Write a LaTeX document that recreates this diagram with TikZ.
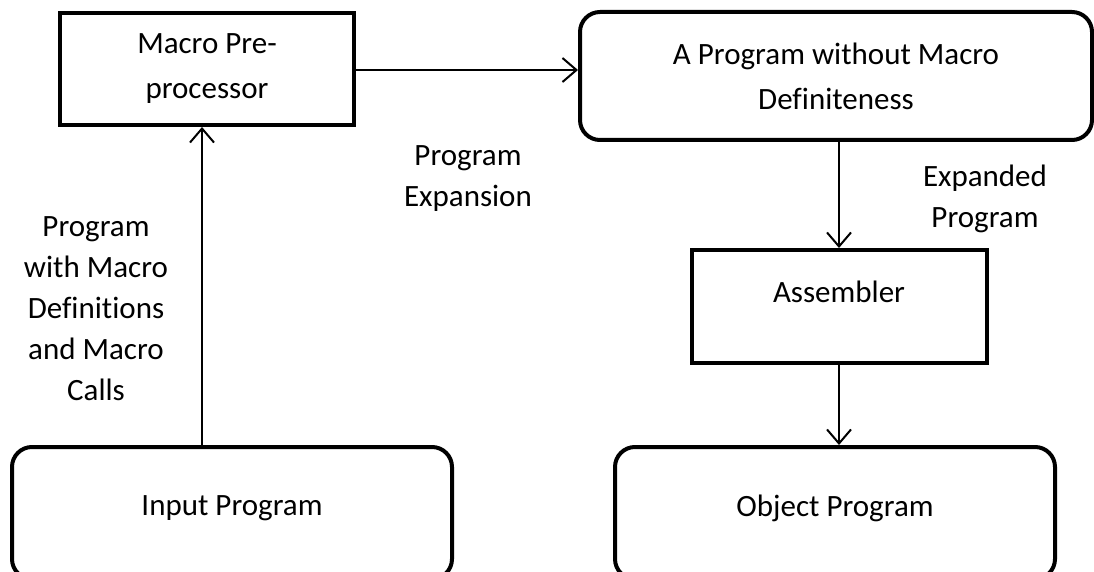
\documentclass[tikz,border=0pt]{standalone}
\usepackage{fontspec}
\setmainfont{Carlito}[Ligatures={NoCommon}]
\usetikzlibrary{arrows.meta}
\tikzset{
  box/.style={draw=black, line width=4pt, fill=white, inner sep=0pt, align=center, font=\fontsize{31}{45}\selectfont},
  rbox/.style={box, rounded corners=20pt},
  arr/.style={draw=black, line width=2pt, -{Straight Barb[length=14pt,width=24pt,line width=2pt]}},
  lbl/.style={align=center, inner sep=0pt},
}
\begin{document}
\begin{tikzpicture}[x=1pt,y=-1pt,font=\fontsize{31}{41}\selectfont]
\useasboundingbox (0,0) rectangle (1094,572);
\clip (0,0) rectangle (1094,572);
% boxes
\node[box, minimum width=294pt, minimum height=112pt] (macro) at (207,69) {Macro Pre-\\processor};
\node[rbox, minimum width=512pt, minimum height=128pt] (prog) at (836,76) {A Program without Macro\\Definiteness};
\node[box, minimum width=295pt, minimum height=113pt] (asm) at (839,306.5) {};
\node[lbl] (asmtext) at (839,292) {Assembler};
\node[rbox, minimum width=440pt, minimum height=132pt] (input) at (232,513) {};
\node[lbl] (inputtext) at (232,508) {Input Program};
\node[rbox, minimum width=440pt, minimum height=132pt] (object) at (835,513) {};
\node[lbl] (objecttext) at (835,508) {Object Program};
% labels
\node[lbl] (lexp) at (468,179) {Program\\Expansion};
\node[lbl] (lexpd) at (985,199) {Expanded\\Program};
\node[lbl] (lwith) at (96,309) {Program\\with Macro\\Definitions\\and Macro\\Calls};
% connectors
\coordinate (upx) at (202,0);
\draw[arr] (input.north -| upx) -- (macro.south -| upx);
\draw[arr] (macro.east |- 0,70) -- (prog.west |- 0,70);
\draw[arr] (prog.south -| asm.north) -- (asm.north);
\draw[arr] (asm.south) -- (object.north -| asm.south);
\end{tikzpicture}
\end{document}
